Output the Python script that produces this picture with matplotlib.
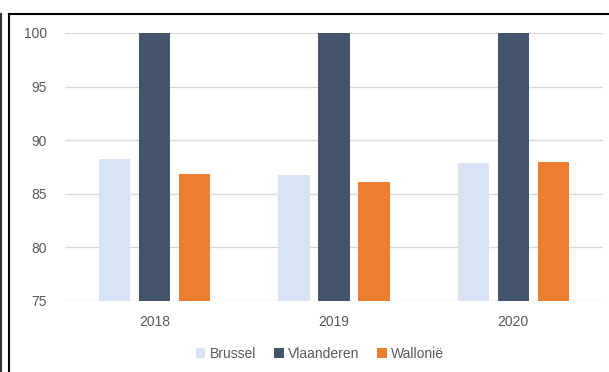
import numpy as np
import matplotlib.pyplot as plt
from matplotlib.lines import Line2D
from matplotlib.patches import Patch

plt.rcParams['font.family'] = ['Liberation Sans', 'DejaVu Sans']

years = ["2018", "2019", "2020"]
regions = ["Brussel", "Vlaanderen", "Wallonië"]
brussel = [88.25, 86.75, 87.85]
vlaanderen = [100, 100, 100]
wallonie = [86.85, 86.1, 88.0]
colors = ["#DAE3F3", "#44546A", "#ED7D31"]
text_color = "#595959"

W, H = 609, 372
fig = plt.figure(figsize=(W / 100, H / 100), dpi=100)
ax = fig.add_axes([65 / W, 1 - 301 / H, (603 - 65) / W, (301 - 33) / H])

x = np.arange(len(years))
width = 0.173
step = 0.223
for i, (vals, col) in enumerate(zip([brussel, vlaanderen, wallonie], colors)):
    ax.bar(x + (i - 1) * step, np.array(vals) - 75, width, bottom=75,
           color=col, zorder=3)

ax.set_xlim(-0.5, 2.5)
ax.set_ylim(75, 100)
ax.set_yticks([75, 80, 85, 90, 95, 100])
ax.set_xticks(x)
ax.set_xticklabels(years)
ax.grid(axis='y', color="#D9D9D9", linewidth=1, zorder=0)
ax.tick_params(length=0, labelsize=10, colors=text_color)
ax.tick_params(axis='y', pad=13)
ax.tick_params(axis='x', pad=10)
for s in ax.spines.values():
    s.set_visible(False)

# legend below the plot
handles = [Patch(facecolor=c, edgecolor='none') for c in colors]
fig.legend(handles, regions, loc='center', bbox_to_anchor=(320 / W, 1 - 354 / H),
           ncol=3, frameon=False, fontsize=10, labelcolor=text_color,
           handlelength=0.7, handleheight=0.7, handletextpad=0.3, columnspacing=1.3)

# outer frame
fig.add_artist(Line2D([8.5 / W, 1], [1 - 14 / H, 1 - 14 / H], color='black', lw=1.5))
fig.add_artist(Line2D([8.5 / W, 8.5 / W], [0, 1 - 14 / H], color='black', lw=1.5))
fig.add_artist(Line2D([0.5 / W, 0.5 / W], [0, 1 - 14 / H], color='#333333', lw=1.5))

fig.savefig("out.png", dpi=100)
